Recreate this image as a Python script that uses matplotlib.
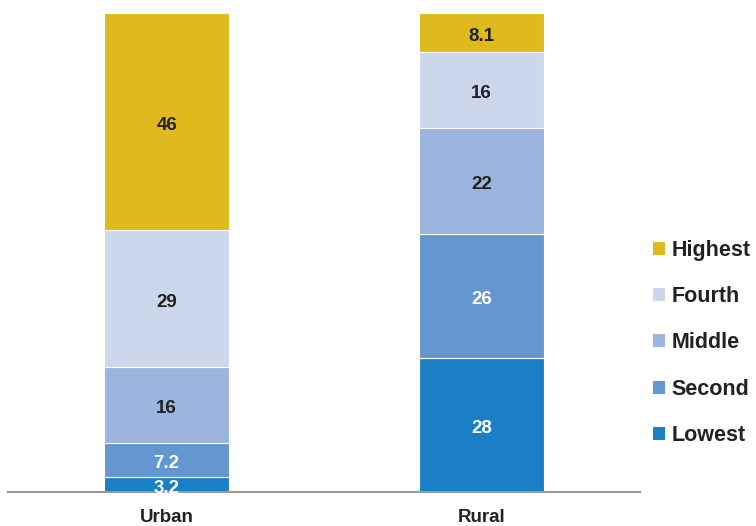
import matplotlib.pyplot as plt
from matplotlib.patches import Patch

plt.rcParams['font.family'] = ['Liberation Sans', 'DejaVu Sans']

areas = ['Urban', 'Rural']
quintiles = ['Lowest', 'Second', 'Middle', 'Fourth', 'Highest']
lowest = [3.2, 28]
second = [7.2, 26]
middle = [16, 22]
fourth = [29, 16]
highest = [46, 8.1]
labels = [['3.2', '28'], ['7.2', '26'], ['16', '22'], ['29', '16'], ['46', '8.1']]

colors = ['#1a7fc4', '#6497cf', '#9bb5de', '#cdd7ec', '#dfba1f']
text_colors = ['white', 'white', '#222222', '#222222', '#222222']

series = [lowest, second, middle, fourth, highest]
# columns are shares of 100%, the printed labels are rounded
totals = [sum(s[i] for s in series) for i in range(2)]

fig = plt.figure(figsize=(7.56, 5.26), dpi=100)
ax = fig.add_axes([8 / 756, 34 / 526, 632 / 756, 492 / 526])

bottom = [0, 0]
x = [0, 1]
for vals, c, tc, lab in zip(series, colors, text_colors, labels):
    h = [vals[i] / totals[i] * 100 for i in range(2)]
    ax.bar(x, h, width=0.397, bottom=bottom, color=c, edgecolor='white', linewidth=0.8)
    for i in range(2):
        ax.text(x[i], bottom[i] + h[i] / 2 - 0.8, lab[i], ha='center', va='center',
                color=tc, fontsize=13.5, fontweight='bold')
    bottom = [bottom[i] + h[i] for i in range(2)]

ax.set_xlim(-0.504, 1.504)
ax.set_ylim(0, 102.7)
for s in ['top', 'right', 'left']:
    ax.spines[s].set_visible(False)
ax.spines['bottom'].set_color('#999999')
ax.spines['bottom'].set_linewidth(1.5)
ax.set_yticks([])
ax.set_xticks(x)
ax.set_xticklabels(areas, fontsize=13.5, fontweight='bold', color='#222222')
ax.tick_params(axis='x', length=0, pad=12)

handles = [Patch(facecolor=c, edgecolor='none') for c in colors[::-1]]
fig.legend(handles, quintiles[::-1], loc='center left', bbox_to_anchor=(653 / 756, 1 - 343 / 526),
           frameon=False, prop={'size': 15.5, 'weight': 'bold'}, handlelength=0.55,
           handleheight=0.55, handletextpad=0.3, labelspacing=1.18, labelcolor='#222222',
           borderpad=0, borderaxespad=0)

fig.savefig('out.png', dpi=100)
